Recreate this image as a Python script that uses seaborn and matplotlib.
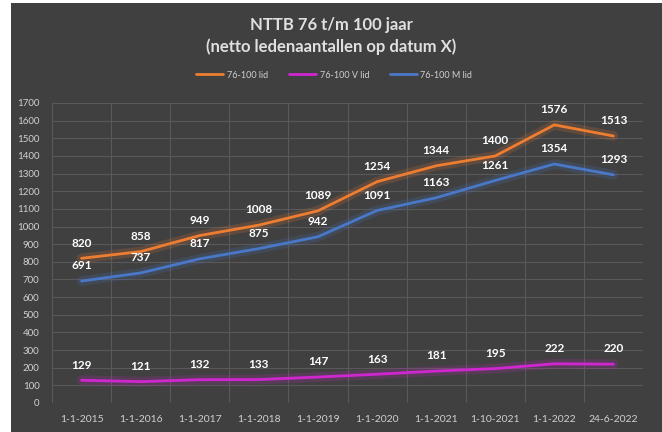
import seaborn as sns
import matplotlib.pyplot as plt
from matplotlib.patches import Rectangle
import pandas as pd

datums = ["1-1-2015", "1-1-2016", "1-1-2017", "1-1-2018", "1-1-2019",
          "1-1-2020", "1-1-2021", "1-10-2021", "1-1-2022", "24-6-2022"]
lid = [820, 858, 949, 1008, 1089, 1254, 1344, 1400, 1576, 1513]
v_lid = [129, 121, 132, 133, 147, 163, 181, 195, 222, 220]
m_lid = [691, 737, 817, 875, 942, 1091, 1163, 1261, 1354, 1293]

series = ["76-100 lid", "76-100 V lid", "76-100 M lid"]
kleuren = ["#ED7D31", "#D026D0", "#4A78C8"]

df = pd.DataFrame({"pos": list(range(len(datums))) * 3,
                   "serie": [s for s in series for _ in datums],
                   "waarde": lid + v_lid + m_lid})

bg = "#404040"
sns.set_theme(style="dark")
plt.rcParams["font.family"] = ["Lato", "DejaVu Sans"]

fig = plt.figure(figsize=(6.62, 4.32), dpi=100, facecolor="white")
fig.patches.append(Rectangle((11 / 662, 0), 1, 1 - 3 / 432, transform=fig.transFigure,
                             facecolor=bg, edgecolor="none", zorder=-5))
ax = fig.add_axes([52 / 662, 1 - 403 / 432, (643 - 52) / 662, 300 / 432])
ax.set_zorder(2)
ax.set_facecolor(bg)

# glow onder de lijnen
for s, c in zip(series, kleuren):
    d = df[df.serie == s]
    ax.plot(d.pos, d.waarde, color=c, lw=7, alpha=0.18, solid_capstyle="round", zorder=2)

sns.lineplot(data=df, x="pos", y="waarde", hue="serie", palette=kleuren,
             linewidth=2, ax=ax, sort=False, legend=False, zorder=3)

for s in series:
    d = df[df.serie == s]
    for x, y in zip(d.pos, d.waarde):
        ax.annotate(str(y), (x, y), xytext=(0, 7), textcoords="offset points",
                    ha="center", va="bottom", color="white", fontsize=8.5,
                    fontweight="bold", zorder=4)

ax.set_xlim(-0.5, len(datums) - 0.5)
ax.set_ylim(0, 1700)
ax.set_yticks(range(0, 1701, 100))
ax.set_xticks(range(len(datums)))
ax.set_xticklabels(datums)
ax.set_xticks([i + 0.5 for i in range(-1, len(datums))], minor=True)
ax.grid(False)
ax.grid(axis="y", which="major", color="#595959", lw=0.8)
ax.grid(axis="x", which="minor", color="#595959", lw=0.8)
ax.tick_params(axis="both", which="both", length=0, colors="#d0d0d0", labelsize=7.5)
ax.tick_params(axis="x", pad=9)
ax.tick_params(axis="y", pad=9, labelsize=7)
for sp in ax.spines.values():
    sp.set_visible(False)
ax.set_xlabel("")
ax.set_ylabel("")

fig.text(0.5, 1 - 25 / 432, "NTTB 76 t/m 100 jaar", ha="center", va="center",
         color="#e0e0e0", fontsize=12, fontweight="bold")
fig.text(0.5, 1 - 47 / 432, "(netto ledenaantallen op datum X)", ha="center", va="center",
         color="#e0e0e0", fontsize=12, fontweight="bold")

handles = [plt.Line2D([], [], color=c, lw=2) for c in kleuren]
leg = fig.legend(handles, series, loc="center", bbox_to_anchor=(0.505, 1 - 75 / 432),
                 ncol=3, frameon=False, fontsize=6.5, handlelength=3, columnspacing=2.3,
                 handletextpad=0.4)
for t in leg.get_texts():
    t.set_color("#d0d0d0")

fig.savefig("out.png", dpi=100, facecolor=fig.get_facecolor())
